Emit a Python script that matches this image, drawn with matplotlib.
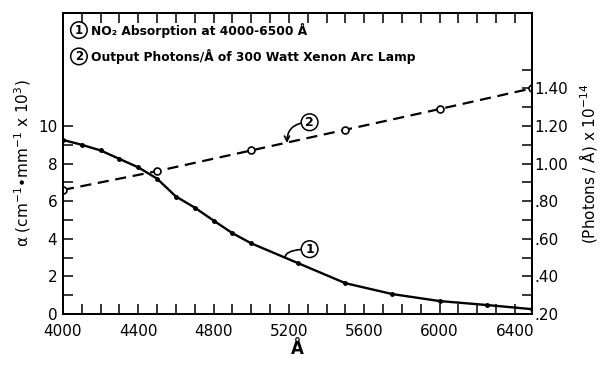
import numpy as np
import matplotlib.pyplot as plt
from matplotlib.ticker import FixedLocator

# NO2 absorption (curve 1), left axis
wl_abs = [4000, 4100, 4200, 4300, 4400, 4500, 4600, 4700, 4800, 4900,
          5000, 5250, 5500, 5750, 6000, 6250, 6490]
alpha = [9.26, 9.0, 8.7, 8.25, 7.8, 7.2, 6.25, 5.66, 4.97, 4.3,
         3.76, 2.7, 1.64, 1.06, 0.69, 0.48, 0.26]

# Xenon lamp photons (curve 2), right axis
wl_lamp = [4000, 4500, 5000, 5500, 6000, 6490]
photons = [0.86, 0.96, 1.07, 1.18, 1.29, 1.40]

left_ticks = [0, 2, 4, 6, 8, 10]
right_ticks = [0.2, 0.4, 0.6, 0.8, 1.0, 1.2, 1.4]
right_labels = ['.20', '.40', '.60', '.80', '1.00', '1.20', '1.40']
x_ticks = [4000, 4400, 4800, 5200, 5600, 6000, 6400]

fig = plt.figure(figsize=(6.05, 3.66), dpi=100)
ax = fig.add_axes([0.104, 0.142, 0.775, 0.822])
ax2 = ax.twinx()

ax.plot(wl_abs, alpha, color='black', lw=1.7, marker='o', ms=2.5)
ax2.plot(wl_lamp, photons, color='black', lw=1.6, ls=(0, (5, 3)),
         marker='o', ms=5, mfc='white', mec='black', mew=1.2)

ax.set_xlim(4000, 6490)
ax.set_ylim(0, 16)
ax2.set_ylim(0.2, 1.8)

# ticks
ax.xaxis.set_major_locator(FixedLocator(x_ticks))
ax.xaxis.set_minor_locator(FixedLocator(np.arange(4000, 6401, 100)))
ax.yaxis.set_major_locator(FixedLocator(left_ticks))
ax.yaxis.set_minor_locator(FixedLocator(np.arange(0, 11, 1)))
ax2.yaxis.set_major_locator(FixedLocator(right_ticks))
ax2.set_yticklabels(right_labels)
ax2.yaxis.set_minor_locator(FixedLocator(np.arange(0.2, 1.51, 0.1)))

for a in (ax, ax2):
    a.tick_params(which='both', direction='in', length=7, width=1.1,
                  labelsize=11, top=True)
ax.tick_params(axis='x', pad=7)
ax.tick_params(axis='y', pad=4)
ax2.tick_params(axis='y', pad=2)
for sp in ax.spines.values():
    sp.set_linewidth(1.4)
for sp in ax2.spines.values():
    sp.set_linewidth(1.4)

ax.set_xlabel('Å', fontsize=12, fontweight='bold', labelpad=1)
ax.set_ylabel('α (cm$^{-1}$•mm$^{-1}$ x 10$^{3}$)', fontsize=11, labelpad=4)
ax2.set_ylabel('(Photons / Å) x 10$^{-14}$', fontsize=11, labelpad=6)

# legend text
circ = dict(boxstyle='circle,pad=0.15', fc='white', ec='black', lw=1.1)
ax.text(4085, 15.1, '1', fontsize=8.5, fontweight='bold', ha='center', va='center', bbox=circ)
ax.text(4150, 15.1, 'NO₂ Absorption at 4000-6500 Å', fontsize=8.8,
        fontweight='bold', va='center')
ax.text(4085, 13.7, '2', fontsize=8.5, fontweight='bold', ha='center', va='center', bbox=circ)
ax.text(4150, 13.7, 'Output Photons/Å of 300 Watt Xenon Arc Lamp', fontsize=8.8,
        fontweight='bold', va='center')

# curve labels with leaders
ax.annotate('1', xy=(5180, 3.0), xytext=(5310, 3.45), fontsize=9, fontweight='bold',
            ha='center', va='center', bbox=circ,
            arrowprops=dict(arrowstyle='-', lw=1.2, color='black',
                            connectionstyle='angle3,angleA=0,angleB=90',
                            shrinkA=0, shrinkB=0))
ax2.annotate('2', xy=(5190, 1.11), xytext=(5310, 1.22), fontsize=9, fontweight='bold',
             ha='center', va='center', bbox=circ,
             arrowprops=dict(arrowstyle='->', lw=1.2, color='black',
                             connectionstyle='angle3,angleA=0,angleB=90',
                             shrinkA=0, shrinkB=0))

fig.savefig('out.png', dpi=100)
